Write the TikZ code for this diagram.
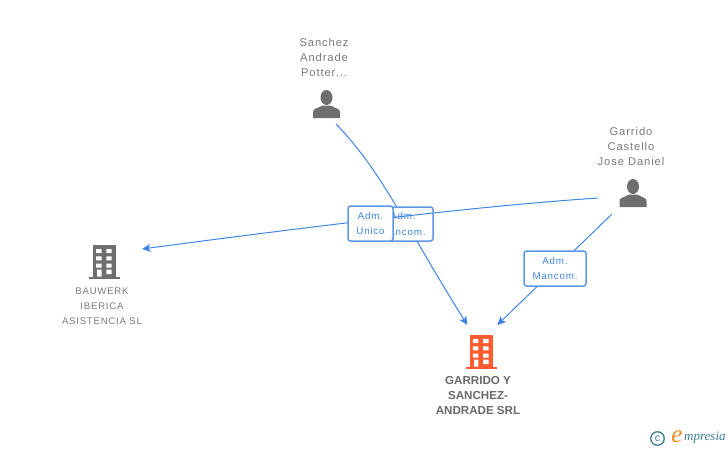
\documentclass[tikz,border=0pt]{standalone}
\usepackage{fontspec}
\setmainfont{Liberation Sans}
\newfontfamily\spaced[LetterSpace=8]{Liberation Sans}
\newfontfamily\logofont{Liberation Serif}
\usetikzlibrary{arrows.meta}
\definecolor{linkblue}{HTML}{3F86E4}
\definecolor{boxblue}{HTML}{5E97E3}
\definecolor{icongray}{HTML}{6E6E6E}
\definecolor{textgray}{HTML}{7A7A7A}
\definecolor{boldgray}{HTML}{6A6A6A}
\definecolor{orangeicon}{HTML}{FF5A30}
\definecolor{teal}{HTML}{3D7F96}
\definecolor{logoorange}{HTML}{F08A1D}
\tikzset{
  anchorpt/.style={inner sep=0pt,minimum size=1pt},
  link/.style={draw=linkblue,line width=1pt},
  linkarrow/.style={link,-{Stealth[length=8.5pt,width=8pt,inset=2pt]}},
  rolebox/.style={draw=boxblue,line width=1.5pt,rounded corners=2.5pt,fill=white,inner sep=0pt,
    text=linkblue,align=center,font=\spaced\fontsize{9.8}{15.5}\selectfont},
  personlabel/.style={text=textgray,align=center,inner sep=0pt,font=\spaced\fontsize{11.2}{15}\selectfont},
  firmlabel/.style={text=textgray,align=center,inner sep=0pt,font=\spaced\fontsize{9.6}{15}\selectfont},
  mainlabel/.style={text=boldgray,align=center,inner sep=0pt,font=\bfseries\fontsize{11.6}{15}\selectfont},
  person/.pic={
    \fill[icongray] (0,-7.5) ellipse (6 and 7.5);
    \fill[icongray] (-13.5,13) -- (-13.5,7) .. controls (-13.5,3.5) and (-9,3.5) .. (-4,0.5)
       -- (4,0.5) .. controls (9,3.5) and (13.5,3.5) .. (13.5,7) -- (13.5,13) -- cycle;
  },
  building/.pic={
    \fill[pic actions] (-11.2,-16) rectangle (11.2,15.7);
    \fill[pic actions] (-15.7,15.5) rectangle (15.7,17.6);
    \fill[white] (-8.5,-12) rectangle (-3,-8) (1.8,-12) rectangle (7.2,-8)
                 (-8.5,-4.7) rectangle (-3,-0.7) (1.8,-4.7) rectangle (7.2,-0.7)
                 (-8.5,2.7) rectangle (-3,6.7) (1.8,2.7) rectangle (7.2,6.7)
                 (-7.3,8.5) rectangle (-3,15.6) (1.8,8.5) rectangle (7.2,13);
  }
}
\begin{document}
\begin{tikzpicture}[x=1pt,y=-1pt]
\useasboundingbox (0,0) rectangle (728,450);

% icon anchors
\node[anchorpt] (sanchez) at (326.5,105) {};
\node[anchorpt] (garrido) at (633,194) {};
\node[anchorpt] (bauwerk) at (104.5,261) {};
\node[anchorpt] (target) at (481.3,351) {};

\pic at (sanchez) {person};
\pic at (garrido) {person};
\pic[fill=icongray] at (bauwerk) {building};
\pic[fill=orangeicon] at (target) {building};

% labels
\node[personlabel] (sanchezlabel) at (324,57) {Sanchez\\Andrade\\Potter...};
\node[personlabel] (garridolabel) at (631,146) {Garrido\\Castello\\Jose Daniel};
\node[firmlabel] (bauwerklabel) at (102,306) {BAUWERK\\IBERICA\\ASISTENCIA SL};
\node[mainlabel] (targetlabel) at (478,396) {GARRIDO Y\\SANCHEZ-\\ANDRADE SRL};

% connectors
\draw[linkarrow] ([shift={(9.5,19)}]sanchez.center) .. controls (382,172) and (399,215) .. ([shift={(-14,-26)}]target.center);
\draw[linkarrow] ([shift={(-21,20)}]garrido.center) -- ([shift={(16,-26)}]target.center);

% role boxes
\node[rolebox,minimum width=60pt,minimum height=34pt] (mancomA) at (403,224) {Adm.\\Mancom.};
\draw[linkarrow] ([shift={(-35,4)}]garrido.center) .. controls (480,206) and (330,224) .. ([shift={(37.5,-12)}]bauwerk.center);
\node[rolebox,minimum width=45pt,minimum height=35pt] (unico) at (370.5,223.5) {Adm.\\Unico};
\node[rolebox,minimum width=62pt,minimum height=35pt] (mancomB) at (555,268.5) {Adm.\\Mancom.};

% logo
\node[draw=teal,line width=1.3pt,circle,inner sep=0pt,minimum size=13.5pt,text=teal,font=\fontsize{10.5}{10}\selectfont] (copyright) at (657.5,438.5) {c};
\node[inner sep=0pt,text=logoorange,font=\logofont\itshape\fontsize{25}{25}\selectfont] (logoe) at (677,436.5) {e};
\node[inner sep=0pt,anchor=west,text=teal,font=\logofont\itshape\fontsize{13}{13}\selectfont] (logotext) at (684,438) {mpresia};
\end{tikzpicture}
\end{document}
